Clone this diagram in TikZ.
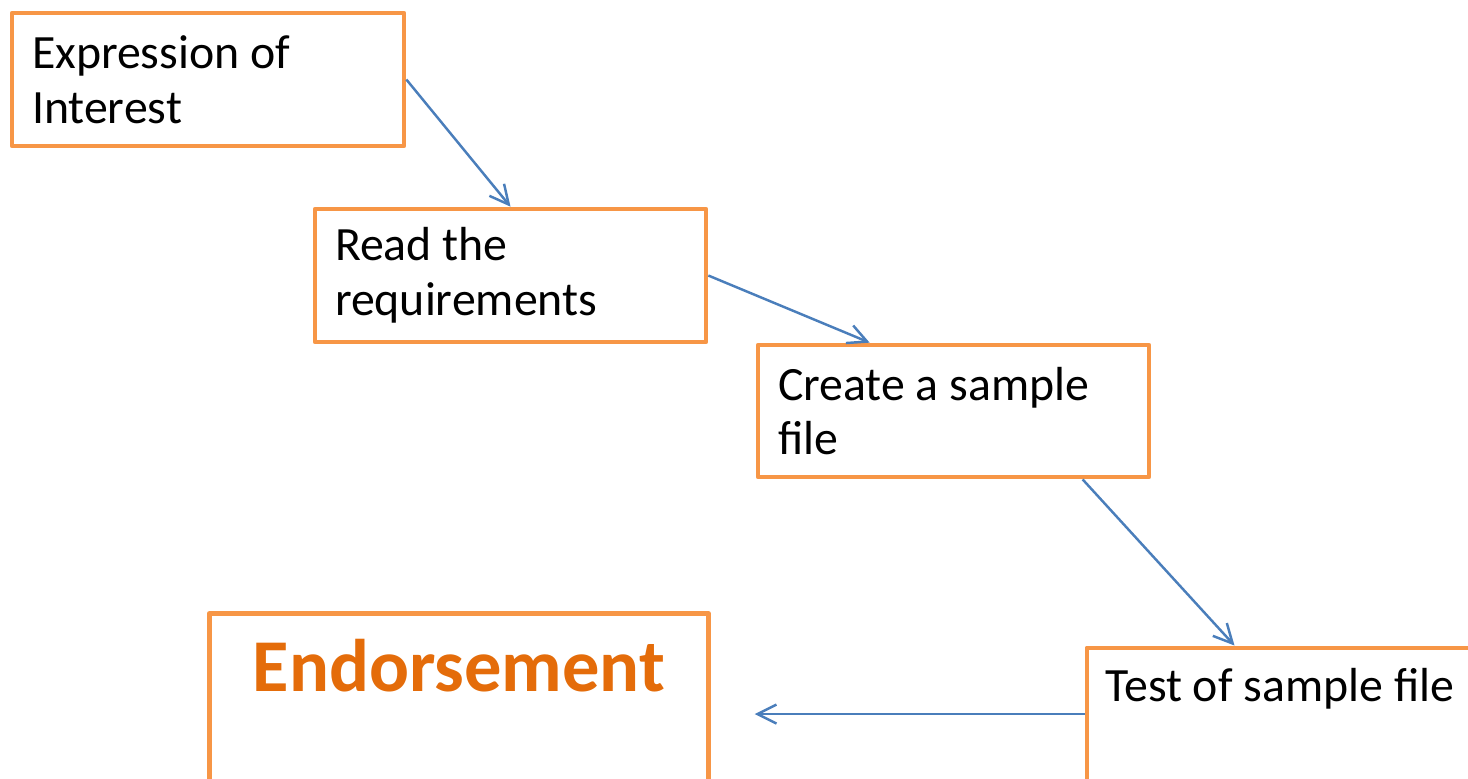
\documentclass[tikz,border=0pt]{standalone}
\usepackage{fontspec}
\setmainfont{Carlito}
\usetikzlibrary{arrows.meta}

\definecolor{boxorange}{HTML}{F79646}
\definecolor{linkblue}{HTML}{4A7EBB}
\definecolor{titleorange}{HTML}{E46C0A}

\tikzset{
  stepbox/.style={draw=boxorange, line width=1.35pt, line join=round, fill=white,
    inner xsep=0.2cm, inner ysep=0pt, align=flush left, anchor=center,
    font=\fontsize{13.6pt}{15.6pt}\selectfont},
  link/.style={draw=linkblue, line width=0.7pt, -{Straight Barb[length=1.9mm,width=1.9mm]}}
}

\begin{document}
\begin{tikzpicture}
\useasboundingbox (0,0) rectangle (14.68,-7.78);
\clip (0,0) rectangle (14.68,-7.78);

\node[stepbox, text width=3.52cm, minimum height=1.33cm] (interest) at (2.08,-0.795) {Expression of\\Interest};
\node[stepbox, text width=3.51cm, minimum height=1.33cm] (require) at (5.105,-2.755) {Read the\\requirements};
\node[stepbox, text width=3.51cm, minimum height=1.32cm] (sample) at (9.535,-4.11) {Create a sample\\file};

\node[stepbox, anchor=north west, minimum width=4.4cm, minimum height=1.8cm] (test) at (10.845,-6.455) {};
\node[anchor=base west, inner sep=0pt, font=\fontsize{13.6pt}{15.6pt}\selectfont] (testtext) at ([shift={(0.2,-0.56)}]test.north west) {Test of sample file};

\node[stepbox, anchor=north west, minimum width=4.99cm, minimum height=2cm] (endorse) at (2.07,-6.11) {};
\node[anchor=base, inner sep=0pt, text=titleorange, font=\fontsize{21.2pt}{24pt}\selectfont\bfseries] (endorsetext) at ([yshift=-0.8cm]endorse.north) {Endorsement};

\draw[link] (interest.east) -- (require.north);
\draw[link] (require.east) -- ([xshift=1.14cm]sample.north west);
\draw[link] ([xshift=3.27cm]sample.south west) -- ([xshift=1.5cm]test.north west);
\draw[link] (test.west |- 0,-7.14) -- ([xshift=0.44cm]endorse.east |- 0,-7.14);
\end{tikzpicture}
\end{document}
